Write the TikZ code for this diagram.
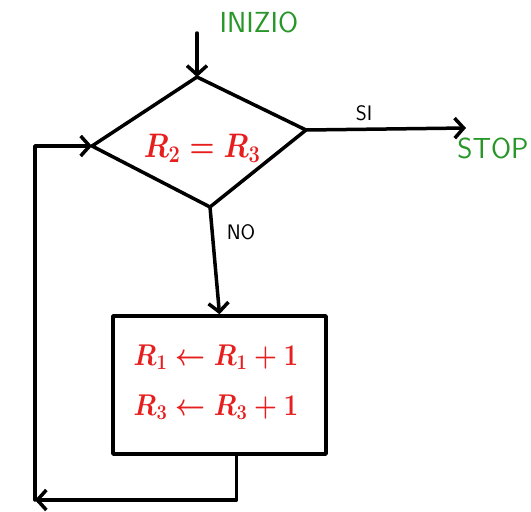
\documentclass[tikz,border=0pt]{standalone}
\usepackage{fix-cm}
\usepackage{fontspec}
\usetikzlibrary{arrows.meta,calc}
\definecolor{myred}{RGB}{230,30,30}
\definecolor{mygreen}{RGB}{40,150,40}
\newcommand{\narrow}[2]{\scalebox{#1}[1]{#2}}
\begin{document}
\begin{tikzpicture}[x=1pt,y=-1pt,line width=3.5pt,line join=round,line cap=round,
  arr/.style={-{Straight Barb[length=9pt,width=20pt,line width=3.5pt]}},
  redtxt/.style={text=myred,font=\fontsize{34}{40}\selectfont\boldmath},
  boxtxt/.style={text=myred,font=\fontsize{30}{50}\selectfont\boldmath,align=center},
  greentxt/.style={text=mygreen,font=\sffamily\fontsize{29}{32}\selectfont},
  lbl/.style={font=\sffamily\fontsize{21}{24}\selectfont},
  procbox/.style={draw,minimum width=213pt,minimum height=138pt,inner sep=0pt}]
\useasboundingbox (0,0) rectangle (531,512);
% decision
\coordinate (dt) at (197,77);
\coordinate (dl) at (92,146);
\coordinate (dr) at (306,130);
\coordinate (db) at (210,207);
\draw (dt) -- (dr) -- (db) -- (dl) -- cycle;
\node[redtxt] (cond) at (202,148) {\narrow{0.84}{$R_2=R_3$}};
% start
\node[greentxt] (start) at (259,22) {INIZIO};
\coordinate (in) at (197,33);
\draw[arr] (in) -- (dt);
% stop
\node[greentxt] (stop) at (493,148) {STOP};
\coordinate (se) at (466,128);
\draw[arr] (dr) -- (se);
\node[lbl] (si) at (364,113) {SI};
% process
\node[procbox] (box) at (219.5,385) {};
\node[boxtxt] (ops) at (216,382) {\narrow{0.87}{$R_1\leftarrow R_1+1$}\\\narrow{0.87}{$R_3\leftarrow R_3+1$}};
\draw[arr] (db) -- (box.north);
\node[lbl] (no) at (241,232) {NO};
% loop back
\coordinate (bo) at ($(box.south)+(17,0)$);
\coordinate (bl) at (35,500);
\draw[arr] (bo) |- (bl);
\draw[arr] (bl) |- (dl);
\end{tikzpicture}
\end{document}
